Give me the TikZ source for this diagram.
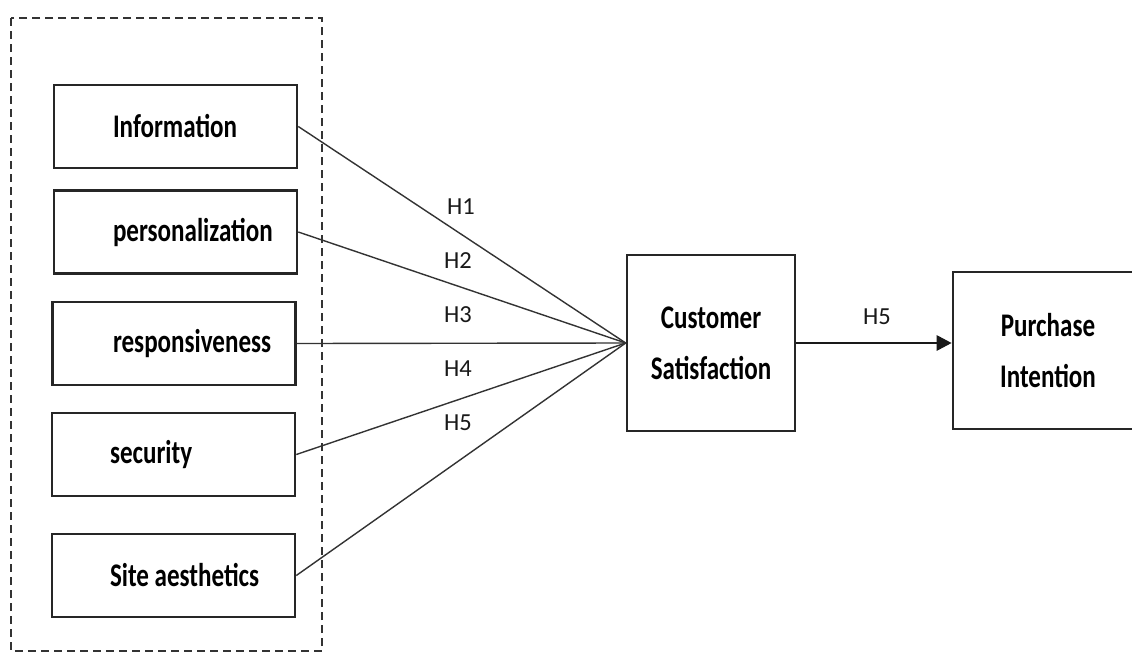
\documentclass[tikz,border=0pt]{standalone}
\usepackage{fontspec}
\setmainfont{Carlito}
\newfontfamily\boxfont{Carlito}[FakeStretch=0.76]
\usetikzlibrary{arrows.meta}
\begin{document}
\begin{tikzpicture}[x=1pt,y=-1pt,
  box/.style={draw=black!85, line width=2.6pt, inner sep=0pt, font=\boxfont\bfseries\fontsize{33}{51}\selectfont},
  leftbox/.style={box, minimum width=243pt, minimum height=83pt},
  link/.style={draw=black!80, line width=1.4pt},
  hlab/.style={font=\fontsize{24.5}{27}\selectfont, text=black!90, inner sep=0pt}
]
\clip (0,0) rectangle (1132,653);
\fill[white] (0,0) rectangle (1132,653);
% dashed group
\draw[black!80, line width=1.5pt, dash pattern=on 8pt off 5pt] (11,18) rectangle (322,651);
% left boxes
\node[leftbox] (info) at (175.5,126.5) {\makebox[243pt][l]{\hspace{59pt}\raisebox{-3pt}{Information}}};
\node[leftbox] (pers) at (175.5,232) {\makebox[243pt][l]{\hspace{59pt}\raisebox{-2pt}{personalization}}};
\node[leftbox] (resp) at (174,343.5) {\makebox[242pt][l]{\hspace{60pt}\raisebox{-2pt}{responsiveness}}};
\node[leftbox] (sec) at (173.5,454.5) {\makebox[243pt][l]{\hspace{58pt}\raisebox{-3pt}{security}}};
\node[leftbox] (site) at (173.5,575.5) {\makebox[243pt][l]{\hspace{58pt}\raisebox{-3pt}{Site aesthetics}}};
% right boxes
\node[box, minimum width=168pt, minimum height=176pt, align=center] (cs) at (711,343) {Customer\\Satisfaction};
\node[box, minimum width=190pt, minimum height=157pt, align=center] (pi) at (1048,350.5) {Purchase\\Intention};
% connectors
\coordinate (conv) at (cs.west);
\draw[link] (info.east) -- (conv);
\draw[link] (pers.east) -- (conv);
\draw[link] (resp.east) -- (conv);
\draw[link] (sec.east) -- (conv);
\draw[link] (site.east) -- (conv);
\draw[black!90, line width=2.8pt, -{Triangle[length=15pt,width=15pt]}] (cs.east) -- (cs.east -| pi.west);
% labels
\node[hlab] (h1) at (461,207) {H1};
\node[hlab] (h2) at (458,261) {H2};
\node[hlab] (h3) at (458,315) {H3};
\node[hlab] (h4) at (458,369) {H4};
\node[hlab] (h5) at (458,423) {H5};
\node[hlab] (h5b) at (877,317) {H5};
\end{tikzpicture}
\end{document}
